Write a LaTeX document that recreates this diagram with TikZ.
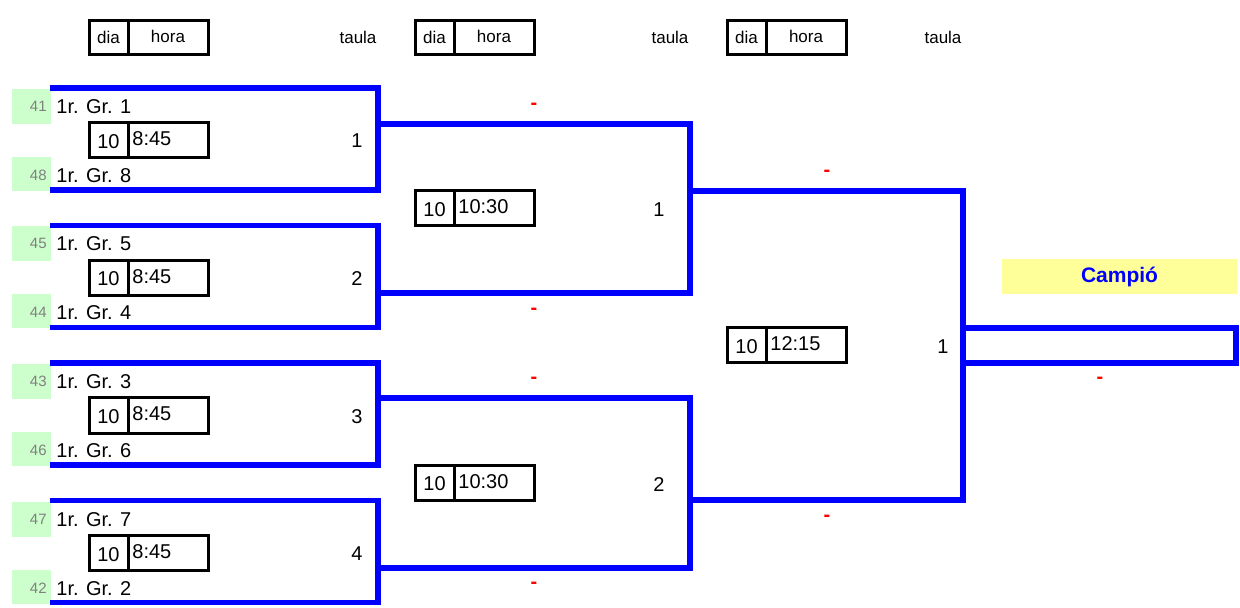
\documentclass[tikz,border=0pt]{standalone}
\usepackage{fontspec}
\setmainfont{Liberation Sans}

\definecolor{blauclau}{RGB}{0,0,255}
\definecolor{verdclar}{RGB}{204,255,204}
\definecolor{grocclar}{RGB}{255,255,153}
\definecolor{grisnum}{RGB}{128,128,128}

\tikzset{
  clau/.style={draw=blauclau, line width=2.8pt},
  caixa/.style={draw=black, line width=1.5pt},
  equip/.style={font=\fontsize{10}{12}\selectfont, anchor=base west, inner sep=0pt},
  llavor/.style={font=\fontsize{7.5}{9}\selectfont, text=grisnum, anchor=base east, inner sep=0pt},
  capcal/.style={font=\fontsize{8.5}{10}\selectfont, anchor=base, inner sep=0pt},
  dianum/.style={font=\fontsize{10}{12}\selectfont, anchor=base, inner sep=0pt},
  horanum/.style={font=\fontsize{10}{12}\selectfont, anchor=base west, inner sep=0pt},
  taula/.style={font=\fontsize{10}{12}\selectfont, anchor=base, inner sep=0pt},
  guio/.style={font=\fontsize{10}{12}\selectfont\bfseries, text=red, inner sep=0pt},
  campio/.style={fill=grocclar, text=blauclau, font=\fontsize{10.5}{12}\selectfont\bfseries,
    minimum width=117.5pt, minimum height=17.5pt, inner sep=0pt}
}

% caixa dia/hora: nom, x, y (dalt), dia, hora
\newcommand{\horari}[5]{%
  \draw[caixa] (#2,#3) rectangle ++(119,35);
  \draw[caixa] (#2+39,#3) -- ++(0,35);
  \node[dianum] (#1d) at (#2+19.5,#3+25.5) {#4};
  \node[horanum] (#1h) at (#2+43,#3+23) {#5};
}
% capcalera: nom, x
\newcommand{\capcalera}[2]{%
  \draw[caixa] (#2,21) rectangle ++(119,34);
  \draw[caixa] (#2+39,21) -- ++(0,34);
  \node[capcal] (#1d) at (#2+19.5,44) {dia};
  \node[capcal] (#1h) at (#2+79,43) {hora};
}

\begin{document}
\begin{tikzpicture}[x=0.5pt,y=-0.5pt]
\useasboundingbox (0,0) rectangle (1240,608);

% capcaleres
\capcalera{c1}{89}
\capcalera{c2}{415}
\capcalera{c3}{727}
\node[capcal] (t1) at (358,44) {taula};
\node[capcal] (t2) at (670,44) {taula};
\node[capcal] (t3) at (943,44) {taula};

% vuitens
\foreach \k/\t/\c/\sa/\ga/\sb/\gb in {1/88/124/41/1/48/8, 2/225.5/293/45/5/44/4,
    3/363/398/43/3/46/6, 4/500.5/568/47/7/42/2} {
  \fill[verdclar] (12,\t+1) rectangle (51,\t+36);
  \fill[verdclar] (12,\t+69) rectangle (51,\t+103);
  \node[llavor] (s\sa) at (47,\t+23.5) {\sa};
  \node[equip] (e\sa) at (56,\t+25.5) {1r. Gr. \ga};
  \node[llavor] (s\sb) at (47,\t+92.5) {\sb};
  \node[equip] (e\sb) at (56,\t+94.5) {1r. Gr. \gb};
  \horari{p\k}{89}{\t+35}{10}{8:45}
  \node[taula] (m\k) at (357,\t+60) {\k};
  \draw[clau] (50,\t) -| (378,\t+102) -- (50,\t+102);
  \coordinate (r\k) at (378,\c);
}

% quarts
\coordinate (q1) at (690,191);
\coordinate (q2) at (690,500);
\draw[clau] (r1) -| (q1) |- (r2);
\draw[clau] (r3) -| (q2) |- (r4);
\horari{qa}{415}{191}{10}{10:30}
\horari{qb}{415}{465}{10}{10:30}
\node[taula] (n1) at (659,216.5) {1};
\node[taula] (n2) at (659,491) {2};

% final
\coordinate (f) at (963,345.5);
\draw[clau] (q1) -| (f) |- (q2);
\draw[clau] (963,328) -- (1236,328) -- (1236,363) -- (963,363);
\horari{fa}{727}{328}{10}{12:15}
\node[taula] (n3) at (943,354) {1};

\node[campio] (campio) at (1119.5,276.5) {Campió};

% guions
\node[guio] (g1) at (534,106) {-};
\node[guio] (g2) at (534,311) {-};
\node[guio] (g3) at (534,380) {-};
\node[guio] (g4) at (534,585) {-};
\node[guio] (g5) at (827,173) {-};
\node[guio] (g6) at (827,518) {-};
\node[guio] (g7) at (1100,380) {-};
\end{tikzpicture}
\end{document}
